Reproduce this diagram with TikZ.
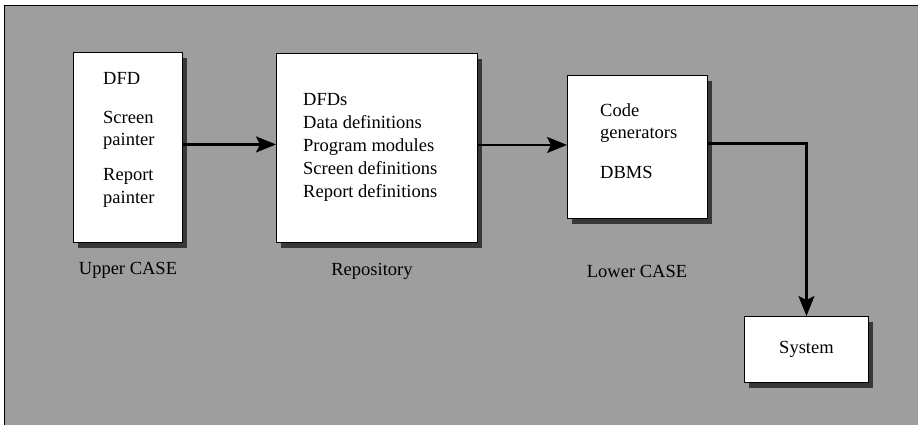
\documentclass[tikz,border=0pt]{standalone}
\usepackage{fontspec}
\setmainfont{Liberation Serif}
\usetikzlibrary{arrows.meta,shadows}
\definecolor{bggray}{gray}{0.62}
\definecolor{shgray}{gray}{0.22}
\tikzset{
  box/.style={draw=black, line width=0.9pt, fill=white, anchor=north west, inner sep=0pt,
    drop shadow={shadow xshift=5pt, shadow yshift=-6pt, fill=shgray, opacity=1}},
  txt/.style={anchor=base west, inner sep=0pt, font=\fontsize{18.5}{22.8}\selectfont, align=left},
  lbl/.style={anchor=base, inner sep=0pt, font=\fontsize{18.5}{22.8}\selectfont},
  arr/.style={line width=2.2pt, -{Stealth[length=20pt, width=16pt, inset=4pt]}}
}
\begin{document}
\begin{tikzpicture}[x=1pt, y=-1pt]
\useasboundingbox (0,0) rectangle (918,425);
\fill[bggray] (4,6) rectangle (918,425);
\draw[line width=1pt] (918,6) -- (4,6) -- (4,425);

% boxes
\node[box, minimum width=109pt, minimum height=190pt] (b1) at (73,52) {};
\node[box, minimum width=201pt, minimum height=189pt] (b2) at (276,53) {};
\node[box, minimum width=140pt, minimum height=143pt] (b3) at (567,75) {};
\node[box, minimum width=124pt, minimum height=66pt] (sys) at (744,316) {};

% box 1 texts (anchored at the baseline of the last line)
\node[txt] (t1a) at (103,85) {DFD};
\node[txt] (t1b) at (103,146) {Screen\\painter};
\node[txt] (t1c) at (103,203) {Report\\painter};

% box 2 texts
\node[txt] (t2) at (303,197) {DFDs\\Data definitions\\Program modules\\Screen definitions\\Report definitions};

% box 3 texts
\node[txt] (t3a) at (600,139) {Code\\generators};
\node[txt] (t3b) at (600,178) {DBMS};

% system
\node[lbl, anchor=center] (ts) at (sys.center) {System};

% labels under boxes
\node[lbl] (l1) at (128,274) {Upper CASE};
\node[lbl] (l2) at (372,275) {Repository};
\node[lbl] (l3) at (637,277) {Lower CASE};

% connectors
\draw[arr] ([yshift=3pt]b1.east) -- ([yshift=3pt]b1.east -| b2.west);
\draw[arr] ([yshift=3pt]b2.east) -- ([yshift=3pt]b2.east -| b3.west);
\draw[arr] ([yshift=3.5pt]b3.east) -| (sys.north);
\end{tikzpicture}
\end{document}
